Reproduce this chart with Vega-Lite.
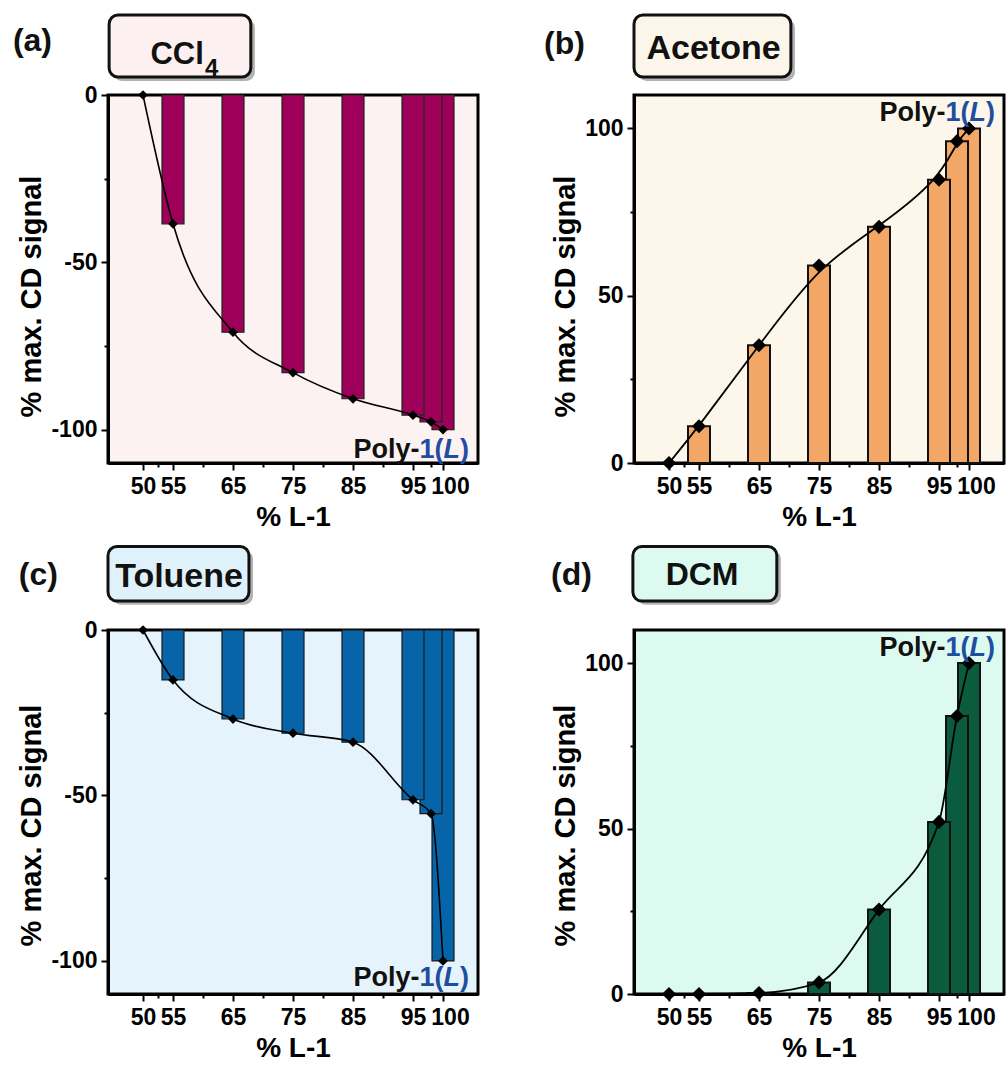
{
  "$schema": "https://vega.github.io/schema/vega-lite/v6.json",
  "background": "white",
  "padding": {"left": 12, "top": 13, "right": 2, "bottom": 2},
  "config": {
    "font": "Liberation Sans",
    "axis": {"labelFontWeight": "bold", "labelFontSize": 23, "labelColor": "black", "titleFontSize": 29, "titleFontWeight": "bold", "titleColor": "black", "domainColor": "black", "domainWidth": 3, "tickColor": "black", "tickWidth": 2, "grid": false, "labelOverlap": false, "labelFlush": false, "labelBound": false}
  },
  "datasets": {
    "cd": [
      {"panel": "a", "x": 100, "y": -100}, {"panel": "a", "x": 98, "y": -97.7}, {"panel": "a", "x": 95, "y": -95.7}, {"panel": "a", "x": 85, "y": -90.8}, {"panel": "a", "x": 75, "y": -83}, {"panel": "a", "x": 65, "y": -70.9}, {"panel": "a", "x": 55, "y": -38.5}, {"panel": "a", "x": 50, "y": 0},
      {"panel": "b", "x": 100, "y": 100}, {"panel": "b", "x": 98, "y": 96.2}, {"panel": "b", "x": 95, "y": 84.7}, {"panel": "b", "x": 85, "y": 70.6}, {"panel": "b", "x": 75, "y": 59}, {"panel": "b", "x": 65, "y": 35.2}, {"panel": "b", "x": 55, "y": 11}, {"panel": "b", "x": 50, "y": 0},
      {"panel": "c", "x": 100, "y": -100}, {"panel": "c", "x": 98, "y": -55.5}, {"panel": "c", "x": 95, "y": -51.3}, {"panel": "c", "x": 85, "y": -33.9}, {"panel": "c", "x": 75, "y": -31.2}, {"panel": "c", "x": 65, "y": -26.9}, {"panel": "c", "x": 55, "y": -15.1}, {"panel": "c", "x": 50, "y": 0},
      {"panel": "d", "x": 100, "y": 100}, {"panel": "d", "x": 98, "y": 84}, {"panel": "d", "x": 95, "y": 52}, {"panel": "d", "x": 85, "y": 25.5}, {"panel": "d", "x": 75, "y": 3.5}, {"panel": "d", "x": 65, "y": 0.3}, {"panel": "d", "x": 55, "y": 0}, {"panel": "d", "x": 50, "y": 0}
    ],
    "hdr": [
      {"panel": "a", "tag": "(a)", "name": "CCl", "sub": "4"},
      {"panel": "b", "tag": "(b)", "name": "Acetone", "sub": ""},
      {"panel": "c", "tag": "(c)", "name": "Toluene", "sub": ""},
      {"panel": "d", "tag": "(d)", "name": "DCM", "sub": ""}
    ]
  },
  "bounds": "flush",
  "columns": 2,
  "spacing": {"row": 18, "column": 156},
  "concat": [
    {
      "width": 370, "height": 62,
      "view": {"stroke": null},
      "data": {"name": "hdr"},
      "transform": [{"filter": "datum.panel === 'a'"}],
      "layer": [
        {"mark": {"type": "rect", "fill": "#555555", "opacity": 0.45, "cornerRadius": 9},
         "encoding": {"x": {"datum": 0.014, "type": "quantitative", "scale": {"domain": [0, 1]}, "axis": null}, "x2": {"datum": 0.397}, "y": {"datum": 0.065, "type": "quantitative", "scale": {"domain": [0, 1], "reverse": true}, "axis": null}, "y2": {"datum": 1.065}}},
        {"mark": {"type": "rect", "fill": "#fdf0f0", "stroke": "#111111", "strokeWidth": 3, "cornerRadius": 9},
         "encoding": {"x": {"datum": 0.003, "type": "quantitative"}, "x2": {"datum": 0.386}, "y": {"datum": 0, "type": "quantitative"}, "y2": {"datum": 1}}},
        {"mark": {"type": "text", "align": "left", "baseline": "alphabetic", "fontSize": 32, "fontWeight": "bold", "color": "#111111"},
         "encoding": {"text": {"field": "tag"}, "x": {"datum": -0.257, "type": "quantitative"}, "y": {"datum": 0.58, "type": "quantitative"}}},
        {"mark": {"type": "text", "align": "right", "baseline": "alphabetic", "fontSize": 31, "fontWeight": "bold", "color": "#111111"},
         "encoding": {"text": {"field": "name"}, "x": {"datum": 0.259, "type": "quantitative"}, "y": {"datum": 0.79, "type": "quantitative"}}},
        {"mark": {"type": "text", "align": "left", "baseline": "alphabetic", "fontSize": 24, "fontWeight": "bold", "color": "#111111"},
         "encoding": {"text": {"field": "sub"}, "x": {"datum": 0.262, "type": "quantitative"}, "y": {"datum": 0.98, "type": "quantitative"}}}
      ]
    },
    {
      "width": 370, "height": 62,
      "view": {"stroke": null},
      "data": {"name": "hdr"},
      "transform": [{"filter": "datum.panel === 'b'"}],
      "layer": [
        {"mark": {"type": "rect", "fill": "#555555", "opacity": 0.45, "cornerRadius": 9},
         "encoding": {"x": {"datum": 0.011, "type": "quantitative", "scale": {"domain": [0, 1]}, "axis": null}, "x2": {"datum": 0.435}, "y": {"datum": 0.065, "type": "quantitative", "scale": {"domain": [0, 1], "reverse": true}, "axis": null}, "y2": {"datum": 1.065}}},
        {"mark": {"type": "rect", "fill": "#fcf6ea", "stroke": "#111111", "strokeWidth": 3, "cornerRadius": 9},
         "encoding": {"x": {"datum": 0, "type": "quantitative"}, "x2": {"datum": 0.424}, "y": {"datum": 0, "type": "quantitative"}, "y2": {"datum": 1}}},
        {"mark": {"type": "text", "align": "left", "baseline": "alphabetic", "fontSize": 32, "fontWeight": "bold", "color": "#111111"},
         "encoding": {"text": {"field": "tag"}, "x": {"datum": -0.243, "type": "quantitative"}, "y": {"datum": 0.63, "type": "quantitative"}}},
        {"mark": {"type": "text", "align": "center", "baseline": "alphabetic", "fontSize": 34, "fontWeight": "bold", "color": "#111111"},
         "encoding": {"text": {"field": "name"}, "x": {"datum": 0.215, "type": "quantitative"}, "y": {"datum": 0.71, "type": "quantitative"}}}
      ]
    },
    {
      "width": 370, "height": 368,
      "view": {"fill": "#fdf2f2", "stroke": "black", "strokeWidth": 3},
      "data": {"name": "cd"},
      "transform": [{"filter": "datum.panel === 'a'"}],
      "encoding": {
        "x": {"field": "x", "type": "quantitative", "scale": {"domain": [45, 105], "nice": false}, "axis": {"values": [50, 52.5, 55, 60, 65, 70, 75, 80, 85, 90, 95, 98, 100], "labelExpr": "indexof([50,55,65,75,85,95,100], datum.value) >= 0 ? datum.label : ''", "labelOffset": {"condition": {"test": "datum.value === 100", "value": 7}, "value": 0}, "tickSize": {"condition": {"test": "indexof([50,55,65,75,85,95,100], datum.value) >= 0", "value": 7}, "value": 4}, "title": "%  L-1", "labelPadding": 5, "titlePadding": 5, "titleFontSize": 28}},
        "y": {"field": "y", "type": "quantitative", "scale": {"domain": [-110, 0], "nice": false}, "axis": {"values": [0, -25, -50, -75, -100], "labelExpr": "datum.value % 50 === 0 ? '' + datum.value : ''", "tickSize": {"condition": {"test": "datum.value % 50 === 0", "value": 7}, "value": 4}, "title": "% max. CD signal", "labelPadding": 4, "titlePadding": 4, "titleY": 201}}
      },
      "layer": [
        {"transform": [{"filter": "datum.x > 50"}], "mark": {"type": "bar", "width": 22, "fill": "#9e0059", "stroke": "#222222", "strokeWidth": 1.2}},
        {"mark": {"type": "line", "interpolate": "monotone", "color": "black", "strokeWidth": 1.6}},
        {"mark": {"type": "point", "shape": "diamond", "filled": true, "color": "black", "opacity": 1, "size": 95}},
        {"transform": [{"filter": "datum.x === 100"}], "mark": {"type": "text", "text": "Poly-", "align": "right", "baseline": "alphabetic", "fontSize": 27, "fontWeight": "bold", "color": "#111111", "dx": -53.5}, "encoding": {"x": {"datum": 105, "type": "quantitative"}, "y": {"datum": -108.5, "type": "quantitative"}}},
        {"transform": [{"filter": "datum.x === 100"}], "mark": {"type": "text", "text": "1(", "align": "right", "baseline": "alphabetic", "fontSize": 27, "fontWeight": "bold", "color": "#1f4e9e", "dx": -29.5}, "encoding": {"x": {"datum": 105, "type": "quantitative"}, "y": {"datum": -108.5, "type": "quantitative"}}},
        {"transform": [{"filter": "datum.x === 100"}], "mark": {"type": "text", "text": "L", "align": "right", "baseline": "alphabetic", "fontSize": 27, "fontWeight": "bold", "fontStyle": "italic", "color": "#1f4e9e", "dx": -13}, "encoding": {"x": {"datum": 105, "type": "quantitative"}, "y": {"datum": -108.5, "type": "quantitative"}}},
        {"transform": [{"filter": "datum.x === 100"}], "mark": {"type": "text", "text": ")", "align": "right", "baseline": "alphabetic", "fontSize": 27, "fontWeight": "bold", "color": "#1f4e9e", "dx": -4}, "encoding": {"x": {"datum": 105, "type": "quantitative"}, "y": {"datum": -108.5, "type": "quantitative"}}}
      ]
    },
    {
      "width": 370, "height": 368,
      "view": {"fill": "#fcf7ea", "stroke": "black", "strokeWidth": 3},
      "data": {"name": "cd"},
      "transform": [{"filter": "datum.panel === 'b'"}],
      "encoding": {
        "x": {"field": "x", "type": "quantitative", "scale": {"domain": [45, 105], "nice": false}, "axis": {"values": [50, 52.5, 55, 60, 65, 70, 75, 80, 85, 90, 95, 98, 100], "labelExpr": "indexof([50,55,65,75,85,95,100], datum.value) >= 0 ? datum.label : ''", "labelOffset": {"condition": {"test": "datum.value === 100", "value": 7}, "value": 0}, "tickSize": {"condition": {"test": "indexof([50,55,65,75,85,95,100], datum.value) >= 0", "value": 7}, "value": 4}, "title": "%  L-1", "labelPadding": 5, "titlePadding": 5, "titleFontSize": 28}},
        "y": {"field": "y", "type": "quantitative", "scale": {"domain": [0, 110], "nice": false}, "axis": {"values": [0, 25, 50, 75, 100], "labelExpr": "datum.value % 50 === 0 ? '' + datum.value : ''", "tickSize": {"condition": {"test": "datum.value % 50 === 0", "value": 7}, "value": 4}, "title": "% max. CD signal", "labelPadding": 4, "titlePadding": 4, "titleY": 201}}
      },
      "layer": [
        {"transform": [{"filter": "datum.x > 50"}], "mark": {"type": "bar", "width": 22, "fill": "#f2a766", "stroke": "#111111", "strokeWidth": 2}},
        {"mark": {"type": "line", "interpolate": "basis", "color": "black", "strokeWidth": 1.8}},
        {"mark": {"type": "point", "shape": "diamond", "filled": true, "color": "black", "opacity": 1, "size": 200}},
        {"transform": [{"filter": "datum.x === 100"}], "mark": {"type": "text", "text": "Poly-", "align": "right", "baseline": "alphabetic", "fontSize": 27, "fontWeight": "bold", "color": "#111111", "dx": -53.5}, "encoding": {"x": {"datum": 105, "type": "quantitative"}, "y": {"datum": 102.3, "type": "quantitative"}}},
        {"transform": [{"filter": "datum.x === 100"}], "mark": {"type": "text", "text": "1(", "align": "right", "baseline": "alphabetic", "fontSize": 27, "fontWeight": "bold", "color": "#1f4e9e", "dx": -29.5}, "encoding": {"x": {"datum": 105, "type": "quantitative"}, "y": {"datum": 102.3, "type": "quantitative"}}},
        {"transform": [{"filter": "datum.x === 100"}], "mark": {"type": "text", "text": "L", "align": "right", "baseline": "alphabetic", "fontSize": 27, "fontWeight": "bold", "fontStyle": "italic", "color": "#1f4e9e", "dx": -13}, "encoding": {"x": {"datum": 105, "type": "quantitative"}, "y": {"datum": 102.3, "type": "quantitative"}}},
        {"transform": [{"filter": "datum.x === 100"}], "mark": {"type": "text", "text": ")", "align": "right", "baseline": "alphabetic", "fontSize": 27, "fontWeight": "bold", "color": "#1f4e9e", "dx": -4}, "encoding": {"x": {"datum": 105, "type": "quantitative"}, "y": {"datum": 102.3, "type": "quantitative"}}}
      ]
    },
    {
      "width": 370, "height": 131,
      "view": {"stroke": null},
      "data": {"name": "hdr"},
      "transform": [{"filter": "datum.panel === 'c'"}],
      "layer": [
        {"mark": {"type": "rect", "fill": "#555555", "opacity": 0.45, "cornerRadius": 9},
         "encoding": {"x": {"datum": 0.011, "type": "quantitative", "scale": {"domain": [0, 1]}, "axis": null}, "x2": {"datum": 0.392}, "y": {"datum": 0.067, "type": "quantitative", "scale": {"domain": [-1.133, 1.05], "reverse": true}, "axis": null}, "y2": {"datum": 1.067}}},
        {"mark": {"type": "rect", "fill": "#dff1fb", "stroke": "#111111", "strokeWidth": 3, "cornerRadius": 9},
         "encoding": {"x": {"datum": 0, "type": "quantitative"}, "x2": {"datum": 0.381}, "y": {"datum": 0, "type": "quantitative"}, "y2": {"datum": 1}}},
        {"mark": {"type": "text", "align": "left", "baseline": "alphabetic", "fontSize": 32, "fontWeight": "bold", "color": "#111111"},
         "encoding": {"text": {"field": "tag"}, "x": {"datum": -0.241, "type": "quantitative"}, "y": {"datum": 0.7, "type": "quantitative"}}},
        {"mark": {"type": "text", "align": "center", "baseline": "alphabetic", "fontSize": 34, "fontWeight": "bold", "color": "#111111"},
         "encoding": {"text": {"field": "name"}, "x": {"datum": 0.192, "type": "quantitative"}, "y": {"datum": 0.733, "type": "quantitative"}}}
      ]
    },
    {
      "width": 370, "height": 131,
      "view": {"stroke": null},
      "data": {"name": "hdr"},
      "transform": [{"filter": "datum.panel === 'd'"}],
      "layer": [
        {"mark": {"type": "rect", "fill": "#555555", "opacity": 0.45, "cornerRadius": 9},
         "encoding": {"x": {"datum": 0.008, "type": "quantitative", "scale": {"domain": [0, 1]}, "axis": null}, "x2": {"datum": 0.397}, "y": {"datum": 0.067, "type": "quantitative", "scale": {"domain": [-1.133, 1.05], "reverse": true}, "axis": null}, "y2": {"datum": 1.067}}},
        {"mark": {"type": "rect", "fill": "#dcfaf0", "stroke": "#111111", "strokeWidth": 3, "cornerRadius": 9},
         "encoding": {"x": {"datum": -0.003, "type": "quantitative"}, "x2": {"datum": 0.386}, "y": {"datum": 0, "type": "quantitative"}, "y2": {"datum": 1}}},
        {"mark": {"type": "text", "align": "left", "baseline": "alphabetic", "fontSize": 32, "fontWeight": "bold", "color": "#111111"},
         "encoding": {"text": {"field": "tag"}, "x": {"datum": -0.224, "type": "quantitative"}, "y": {"datum": 0.7, "type": "quantitative"}}},
        {"mark": {"type": "text", "align": "center", "baseline": "alphabetic", "fontSize": 32, "fontWeight": "bold", "color": "#111111"},
         "encoding": {"text": {"field": "name"}, "x": {"datum": 0.184, "type": "quantitative"}, "y": {"datum": 0.7, "type": "quantitative"}}}
      ]
    },
    {
      "width": 370, "height": 364,
      "view": {"fill": "#e5f4fc", "stroke": "black", "strokeWidth": 3},
      "data": {"name": "cd"},
      "transform": [{"filter": "datum.panel === 'c'"}],
      "encoding": {
        "x": {"field": "x", "type": "quantitative", "scale": {"domain": [45, 105], "nice": false}, "axis": {"values": [50, 52.5, 55, 60, 65, 70, 75, 80, 85, 90, 95, 98, 100], "labelExpr": "indexof([50,55,65,75,85,95,100], datum.value) >= 0 ? datum.label : ''", "labelOffset": {"condition": {"test": "datum.value === 100", "value": 7}, "value": 0}, "tickSize": {"condition": {"test": "indexof([50,55,65,75,85,95,100], datum.value) >= 0", "value": 7}, "value": 4}, "title": "%  L-1", "labelPadding": 5, "titlePadding": 5, "titleFontSize": 28}},
        "y": {"field": "y", "type": "quantitative", "scale": {"domain": [-110, 0], "nice": false}, "axis": {"values": [0, -25, -50, -75, -100], "labelExpr": "datum.value % 50 === 0 ? '' + datum.value : ''", "tickSize": {"condition": {"test": "datum.value % 50 === 0", "value": 7}, "value": 4}, "title": "% max. CD signal", "labelPadding": 4, "titlePadding": 4, "titleY": 195}}
      },
      "layer": [
        {"transform": [{"filter": "datum.x > 50"}], "mark": {"type": "bar", "width": 22, "fill": "#0864a8", "stroke": "#1a1a1a", "strokeWidth": 1.2}},
        {"mark": {"type": "line", "interpolate": "monotone", "color": "black", "strokeWidth": 1.6}},
        {"mark": {"type": "point", "shape": "diamond", "filled": true, "color": "black", "opacity": 1, "size": 95}},
        {"transform": [{"filter": "datum.x === 100"}], "mark": {"type": "text", "text": "Poly-", "align": "right", "baseline": "alphabetic", "fontSize": 27, "fontWeight": "bold", "color": "#111111", "dx": -53.5}, "encoding": {"x": {"datum": 105, "type": "quantitative"}, "y": {"datum": -107.6, "type": "quantitative"}}},
        {"transform": [{"filter": "datum.x === 100"}], "mark": {"type": "text", "text": "1(", "align": "right", "baseline": "alphabetic", "fontSize": 27, "fontWeight": "bold", "color": "#1f4e9e", "dx": -29.5}, "encoding": {"x": {"datum": 105, "type": "quantitative"}, "y": {"datum": -107.6, "type": "quantitative"}}},
        {"transform": [{"filter": "datum.x === 100"}], "mark": {"type": "text", "text": "L", "align": "right", "baseline": "alphabetic", "fontSize": 27, "fontWeight": "bold", "fontStyle": "italic", "color": "#1f4e9e", "dx": -13}, "encoding": {"x": {"datum": 105, "type": "quantitative"}, "y": {"datum": -107.6, "type": "quantitative"}}},
        {"transform": [{"filter": "datum.x === 100"}], "mark": {"type": "text", "text": ")", "align": "right", "baseline": "alphabetic", "fontSize": 27, "fontWeight": "bold", "color": "#1f4e9e", "dx": -4}, "encoding": {"x": {"datum": 105, "type": "quantitative"}, "y": {"datum": -107.6, "type": "quantitative"}}}
      ]
    },
    {
      "width": 370, "height": 364,
      "view": {"fill": "#dcfaf0", "stroke": "black", "strokeWidth": 3},
      "data": {"name": "cd"},
      "transform": [{"filter": "datum.panel === 'd'"}],
      "encoding": {
        "x": {"field": "x", "type": "quantitative", "scale": {"domain": [45, 105], "nice": false}, "axis": {"values": [50, 52.5, 55, 60, 65, 70, 75, 80, 85, 90, 95, 98, 100], "labelExpr": "indexof([50,55,65,75,85,95,100], datum.value) >= 0 ? datum.label : ''", "labelOffset": {"condition": {"test": "datum.value === 100", "value": 7}, "value": 0}, "tickSize": {"condition": {"test": "indexof([50,55,65,75,85,95,100], datum.value) >= 0", "value": 7}, "value": 4}, "title": "%  L-1", "labelPadding": 5, "titlePadding": 5, "titleFontSize": 28}},
        "y": {"field": "y", "type": "quantitative", "scale": {"domain": [0, 110], "nice": false}, "axis": {"values": [0, 25, 50, 75, 100], "labelExpr": "datum.value % 50 === 0 ? '' + datum.value : ''", "tickSize": {"condition": {"test": "datum.value % 50 === 0", "value": 7}, "value": 4}, "title": "% max. CD signal", "labelPadding": 4, "titlePadding": 4, "titleY": 195}}
      },
      "layer": [
        {"transform": [{"filter": "datum.x > 50"}], "mark": {"type": "bar", "width": 22, "fill": "#0b5c3e", "stroke": "#111111", "strokeWidth": 2}},
        {"mark": {"type": "line", "interpolate": "monotone", "color": "black", "strokeWidth": 1.8}},
        {"mark": {"type": "point", "shape": "diamond", "filled": true, "color": "black", "opacity": 1, "size": 200}},
        {"transform": [{"filter": "datum.x === 100"}], "mark": {"type": "text", "text": "Poly-", "align": "right", "baseline": "alphabetic", "fontSize": 27, "fontWeight": "bold", "color": "#111111", "dx": -53.5}, "encoding": {"x": {"datum": 105, "type": "quantitative"}, "y": {"datum": 102.1, "type": "quantitative"}}},
        {"transform": [{"filter": "datum.x === 100"}], "mark": {"type": "text", "text": "1(", "align": "right", "baseline": "alphabetic", "fontSize": 27, "fontWeight": "bold", "color": "#1f4e9e", "dx": -29.5}, "encoding": {"x": {"datum": 105, "type": "quantitative"}, "y": {"datum": 102.1, "type": "quantitative"}}},
        {"transform": [{"filter": "datum.x === 100"}], "mark": {"type": "text", "text": "L", "align": "right", "baseline": "alphabetic", "fontSize": 27, "fontWeight": "bold", "fontStyle": "italic", "color": "#1f4e9e", "dx": -13}, "encoding": {"x": {"datum": 105, "type": "quantitative"}, "y": {"datum": 102.1, "type": "quantitative"}}},
        {"transform": [{"filter": "datum.x === 100"}], "mark": {"type": "text", "text": ")", "align": "right", "baseline": "alphabetic", "fontSize": 27, "fontWeight": "bold", "color": "#1f4e9e", "dx": -4}, "encoding": {"x": {"datum": 105, "type": "quantitative"}, "y": {"datum": 102.1, "type": "quantitative"}}}
      ]
    }
  ]
}
